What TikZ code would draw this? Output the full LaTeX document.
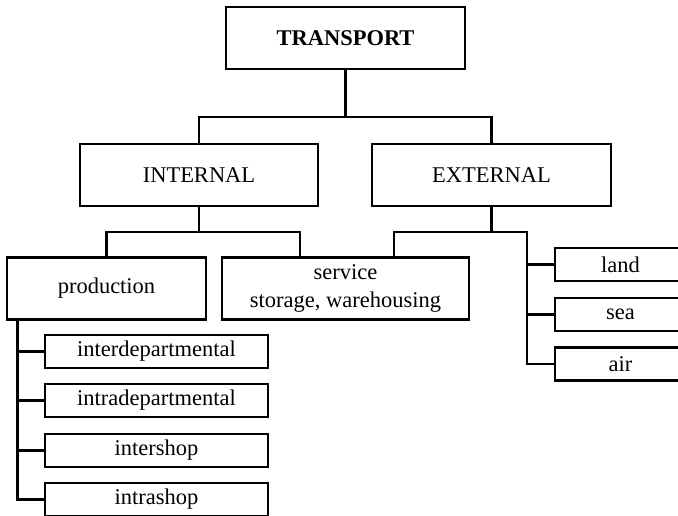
\documentclass[tikz,border=0pt]{standalone}
\usepackage{fontspec}
\setmainfont{Liberation Serif}

\begin{document}
\begin{tikzpicture}[x=0.02cm, y=-0.02cm, line width=1.2pt,
    box/.style={draw, rectangle, fill=white, inner sep=0pt, align=center,
        font=\fontsize{12.8}{15.6}\selectfont},
    bigbox/.style={box, minimum height=1.24cm},
    smallbox/.style={box, minimum height=0.66cm}]
    \useasboundingbox (0,0) rectangle (678,516);
    \clip (0,0) rectangle (678,516);

    % Draw nodes
    \node[bigbox, minimum width=4.78cm, font=\fontsize{12.8}{15.6}\selectfont\bfseries] (transport) at (345.5,38) {TRANSPORT};
    \node[bigbox, minimum width=4.76cm] (internal) at (199,175) {INTERNAL};
    \node[bigbox, minimum width=4.78cm] (external) at (491.5,175) {EXTERNAL};
    \node[bigbox, minimum width=3.98cm] (production) at (106.5,288.5) {production};
    \node[bigbox, minimum width=4.94cm] (service) at (345.5,288.5) {service\\storage, warehousing};
    \node[smallbox, minimum width=2.62cm] (land) at (620.5,264.5) {land};
    \node[smallbox, minimum width=2.62cm] (sea) at (620.5,314.5) {sea};
    \node[smallbox, minimum width=2.62cm] (air) at (620.5,364) {air};
    \node[smallbox, minimum width=4.46cm] (interdep) at (156.5,351.5) {interdepartmental};
    \node[smallbox, minimum width=4.46cm] (intradep) at (156.5,400.5) {intradepartmental};
    \node[smallbox, minimum width=4.46cm] (intershop) at (156.5,450.5) {intershop};
    \node[smallbox, minimum width=4.46cm] (intrashop) at (156.5,499.5) {intrashop};

    % Bus points
    \coordinate (topbus) at (345.5,117);
    \coordinate (intbus) at (199,232);
    \coordinate (extbus) at (491.5,232);
    \coordinate (svcleft) at (300,258);
    \coordinate (svcright) at (394,258);
    \coordinate (extspine) at (527,232);
    \coordinate (prodspine) at (17.5,319);

    % Draw connections
    \draw (transport.south) -- (topbus);
    \draw (internal.north) |- (topbus) -| (external.north);
    \draw (internal.south) -- (intbus);
    \draw (production.north) |- (intbus) -| (svcleft);
    \draw (external.south) -- (extbus);
    \draw (svcright) |- (extspine) |- (air.west);
    \foreach \n in {land, sea}
        \draw (extspine |- \n.west) -- (\n.west);
    \draw (prodspine) |- (intrashop.west);
    \foreach \n in {interdep, intradep, intershop}
        \draw (prodspine |- \n.west) -- (\n.west);
\end{tikzpicture}
\end{document}
